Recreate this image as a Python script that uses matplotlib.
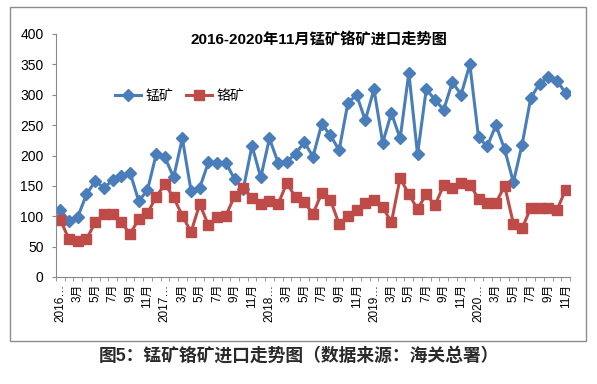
import matplotlib
matplotlib.use("Agg")
import matplotlib.pyplot as plt
from matplotlib.patches import Rectangle

plt.rcParams['font.family'] = ['Liberation Sans', 'Noto Sans CJK SC', 'DejaVu Sans']

# monthly imports, Jan 2016 .. Nov 2020 (10k t)
manganese = [110, 93, 99, 136, 158, 147, 159, 167, 172, 125, 143, 202,
             197, 164, 228, 142, 147, 189, 187, 188, 161, 145, 216, 164,
             228, 188, 190, 203, 222, 198, 252, 233, 209, 286, 300, 258,
             309, 221, 270, 228, 336, 202, 309, 292, 275, 321, 300, 350,
             230, 215, 250, 210, 156, 218, 295, 318, 329, 323, 303]
chrome = [94, 62, 59, 62, 90, 103, 103, 90, 71, 95, 105, 132,
          153, 131, 101, 74, 120, 85, 98, 101, 133, 147, 130, 120,
          125, 120, 155, 131, 123, 104, 138, 127, 87, 100, 110, 122,
          126, 115, 90, 163, 136, 112, 136, 118, 151, 147, 155, 152,
          129, 121, 122, 150, 88, 80, 114, 113, 113, 110, 144]
years = [2016, 2017, 2018, 2019, 2020]
labels = []
for y in years:
    for m in range(1, 13):
        if y == 2020 and m > 11:
            break
        if m == 1:
            labels.append(f"{y}…")
        elif m % 2 == 1:
            labels.append(f"{m}月")
        else:
            labels.append("")

blue = '#4A7EBB'
red = '#BE4B48'

fig = plt.figure(figsize=(5.97, 3.84), dpi=100)
fig.patches.append(Rectangle((10 / 597, 1 - 341 / 384), 576 / 597, 334 / 384,
                             transform=fig.transFigure, facecolor='none',
                             edgecolor='#8c8c8c', lw=1.0))

ax = fig.add_axes([56 / 597, 1 - 277 / 384, 514 / 597, 243 / 384])
ax.patch.set_alpha(0)
x = list(range(len(manganese)))
ax.plot(x, manganese, color=blue, lw=2.2, marker='D', ms=6.3, label='锰矿')
ax.plot(x, chrome, color=red, lw=2.2, marker='s', ms=7.5, label='铬矿')

ax.set_xlim(-0.5, len(x) - 0.5)
ax.set_ylim(0, 400)
ax.set_yticks(range(0, 401, 50))
ax.set_xticks(x)
ax.set_xticklabels(labels, rotation=90, fontsize=8.5)
ax.tick_params(axis='x', length=0, pad=5)
ax.set_xticks([i - 0.5 for i in range(len(x) + 1)], minor=True)
ax.tick_params(axis='x', which='minor', length=3, color='#888888')
ax.tick_params(axis='y', labelsize=10, length=3, color='#888888', pad=6)
for s in ['top', 'right']:
    ax.spines[s].set_visible(False)
for s in ['left', 'bottom']:
    ax.spines[s].set_color('#888888')

ax.legend(loc='center left', bbox_to_anchor=(0.09, 0.745), ncol=2,
          frameon=False, fontsize=10, handlelength=1.9, columnspacing=0.9,
          handletextpad=0.3)

fig.text(0.535, 1 - 40 / 384, '2016-2020年11月锰矿铬矿进口走势图',
         ha='center', va='center', fontsize=11, fontweight='bold')
fig.text(0.5, 1 - 356 / 384, '图5：锰矿铬矿进口走势图（数据来源：海关总署）',
         ha='center', va='center', fontsize=12.8, fontweight='bold', color='#2a2a2a')

fig.savefig('out.png', dpi=100)
